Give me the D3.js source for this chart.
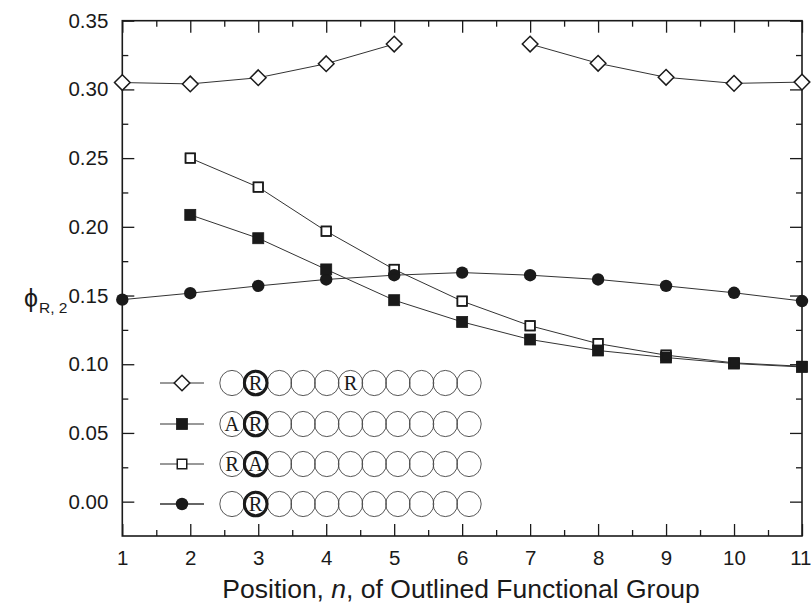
<!DOCTYPE html>
<html><head><meta charset="utf-8">
<script src="https://cdn.jsdelivr.net/npm/d3@7"></script>
<style>
html,body{margin:0;padding:0;background:#fff;}
svg{display:block;font-family:"Liberation Sans",Arial,Helvetica,sans-serif;}
</style></head>
<body>
<svg id="chart" width="811" height="604"></svg>
<script>
// ---- data ----
const positions = [1,2,3,4,5,6,7,8,9,10,11];
const xTicks = [1,2,3,4,5,6,7,8,9,10,11];
const yTicks = [0.00,0.05,0.10,0.15,0.20,0.25,0.30,0.35];
const yTickLabels = ["0.00","0.05","0.10","0.15","0.20","0.25","0.30","0.35"];
// open diamonds: R ... R (no value at n = 6)
const diamondVals = [0.305,0.304,0.3085,0.3187,0.333,null,0.333,0.319,0.3088,0.3044,0.3053];
// filled squares: A R
const filledSqVals = [null,0.2087,0.1917,0.169,0.1466,0.1308,0.118,0.110,0.1049,0.1005,0.098];
// open squares: R A
const openSqVals = [null,0.250,0.2289,0.1968,0.169,0.1459,0.128,0.115,0.1066,0.101,0.0985];
// filled circles: R
const circleVals = [0.147,0.1517,0.157,0.1617,0.1648,0.1667,0.1648,0.1617,0.157,0.152,0.146];
// legend rows: labels inside the 11 chain circles, thick circle index
const legendRows = [
  {marker:"diamond", labels:{1:"R",5:"R"}, thick:1},
  {marker:"filledSq", labels:{0:"A",1:"R"}, thick:1},
  {marker:"openSq", labels:{0:"R",1:"A"}, thick:1},
  {marker:"circle", labels:{1:"R"}, thick:1}
];
const xTitle = "Position, ";
const xTitleItalic = "n";
const xTitleRest = ", of Outlined Functional Group";

// ---- chart ----
const svg = d3.select("#chart");
const L=122.3, R=802, T=20.7, B=536;
const x = d3.scaleLinear().domain([1,11]).range([L,R]);
const y = d3.scaleLinear().domain([-0.025,0.35]).range([B,T]);
const ink = "#1a1a1a";

// axes (ticks inward on all sides)
const minorX = d3.range(1.5,11,1);
const minorY = d3.range(-0.025+0.05,0.35,0.05).map(v=>+v.toFixed(3)).filter(v=>v>-0.02&&v<0.35);
function styleAxis(g){ g.select(".domain").remove(); g.selectAll("line").attr("stroke",ink).attr("stroke-width",1.3); g.selectAll("text").attr("fill",ink); }

const xAx = svg.append("g").attr("transform",`translate(0,${B})`)
  .call(d3.axisBottom(x).tickValues(xTicks).tickSize(-12).tickPadding(14).tickFormat(d3.format("d")))
  .call(styleAxis);
xAx.selectAll("text").attr("font-size",20.5);
// keep the last label inside the picture
xAx.selectAll(".tick").filter(d=>d===11).select("text").attr("text-anchor","end").attr("x",9);
svg.append("g").attr("transform",`translate(0,${B})`)
  .call(d3.axisBottom(x).tickValues(minorX).tickSize(-6).tickFormat(""))
  .call(styleAxis);
svg.append("g").attr("transform",`translate(0,${T})`)
  .call(d3.axisTop(x).tickValues(xTicks).tickSize(-12).tickFormat(""))
  .call(styleAxis);
svg.append("g").attr("transform",`translate(0,${T})`)
  .call(d3.axisTop(x).tickValues(minorX).tickSize(-6).tickFormat(""))
  .call(styleAxis);
svg.append("g").attr("transform",`translate(${L},0)`)
  .call(d3.axisLeft(y).tickValues(yTicks).tickSize(-12).tickPadding(14).tickFormat((d,i)=>yTickLabels[i]))
  .call(styleAxis).selectAll("text").attr("font-size",20.5);
svg.append("g").attr("transform",`translate(${L},0)`)
  .call(d3.axisLeft(y).tickValues(minorY).tickSize(-6).tickFormat(""))
  .call(styleAxis);
svg.append("g").attr("transform",`translate(${R},0)`)
  .call(d3.axisRight(y).tickValues(yTicks).tickSize(-12).tickFormat(""))
  .call(styleAxis);
svg.append("g").attr("transform",`translate(${R},0)`)
  .call(d3.axisRight(y).tickValues(minorY).tickSize(-6).tickFormat(""))
  .call(styleAxis);

// frame
svg.append("rect").attr("x",L).attr("y",T).attr("width",R-L).attr("height",B-T)
  .attr("fill","none").attr("stroke",ink).attr("stroke-width",1.6);

// axis titles
const xt = svg.append("text").attr("x",461).attr("y",598).attr("text-anchor","middle")
  .attr("font-size",26.5).attr("fill",ink);
xt.append("tspan").text(xTitle);
xt.append("tspan").attr("font-style","italic").text(xTitleItalic);
xt.append("tspan").text(xTitleRest);

const yt = svg.append("text").attr("x",24).attr("y",307).attr("fill",ink).attr("font-size",25);
yt.append("tspan").text("\u03D5");
yt.append("tspan").attr("font-size",15.5).attr("dy",6).attr("dx",1).text("R, 2");

// series
const toPts = vals => positions.map((p,i)=>({x:p,v:vals[i]}));
const line = d3.line().defined(d=>d.v!=null).x(d=>x(d.x)).y(d=>y(d.v));
const lineG = svg.append("g").attr("fill","none").attr("stroke","#333").attr("stroke-width",1);
[diamondVals, filledSqVals, openSqVals, circleVals].forEach(vals=>{
  lineG.append("path").attr("d", line(toPts(vals)));
});

const SQ=11, CR=6.2, DW=7.8, DH=7.8;
function drawMarker(g, type, cx, cy, opts={}){
  if(type==="diamond"){
    g.append("path").attr("d",`M${cx},${cy-DH}L${cx+DW},${cy}L${cx},${cy+DH}L${cx-DW},${cy}Z`)
      .attr("fill","#fff").attr("stroke",ink).attr("stroke-width",1.5);
  } else if(type==="filledSq"){
    g.append("rect").attr("x",cx-SQ/2).attr("y",cy-SQ/2).attr("width",SQ).attr("height",SQ)
      .attr("fill",ink).attr("stroke",ink).attr("stroke-width",0.8);
  } else if(type==="openSq"){
    g.append("rect").attr("x",cx-SQ/2+0.75).attr("y",cy-SQ/2+0.75).attr("width",SQ-1.5).attr("height",SQ-1.5)
      .attr("fill",opts.outlineOnly?"none":"#fff").attr("stroke",ink).attr("stroke-width",1.5);
  } else if(type==="circle"){
    g.append("circle").attr("cx",cx).attr("cy",cy).attr("r",CR).attr("fill",ink);
  }
}
const mk = svg.append("g");
toPts(diamondVals).filter(d=>d.v!=null).forEach(d=>drawMarker(mk,"diamond",x(d.x),y(d.v)));
toPts(openSqVals).filter(d=>d.v!=null).forEach(d=>drawMarker(mk,"openSq",x(d.x),y(d.v)));
toPts(circleVals).filter(d=>d.v!=null).forEach(d=>drawMarker(mk,"circle",x(d.x),y(d.v)));
toPts(filledSqVals).filter(d=>d.v!=null).forEach(d=>drawMarker(mk,"filledSq",x(d.x),y(d.v)));
toPts(openSqVals).filter((d,i)=>d.v!=null && i<10).forEach(d=>drawMarker(mk,"openSq",x(d.x),y(d.v),{outlineOnly:true}));

// legend
const legY = [383,424,464,504];
const lg = svg.append("g");
legendRows.forEach((row,ri)=>{
  const cy = legY[ri];
  lg.append("line").attr("x1",160).attr("x2",204).attr("y1",cy).attr("y2",cy)
    .attr("stroke","#333").attr("stroke-width",row.marker==="circle"?1.6:1);
  drawMarker(lg,row.marker,182,cy);
  for(let k=0;k<11;k++){
    const ccx = 232 + k*23.7;
    lg.append("ellipse").attr("cx",ccx).attr("cy",cy).attr("rx",12.2).attr("ry",12.6)
      .attr("fill","none").attr("stroke","#444").attr("stroke-width",0.9);
  }
  for(let k=0;k<11;k++){
    const ccx = 232 + k*23.7;
    if(k===row.thick){
      lg.append("ellipse").attr("cx",ccx).attr("cy",cy).attr("rx",11.3).attr("ry",11.8)
        .attr("fill","none").attr("stroke",ink).attr("stroke-width",3);
    }
    if(row.labels[k]){
      lg.append("text").attr("x",ccx).attr("y",cy+7).attr("text-anchor","middle")
        .attr("font-family","'Liberation Serif','Times New Roman',serif").attr("font-size",20.5)
        .attr("fill",ink).text(row.labels[k]);
    }
  }
});
</script>
</body></html>
